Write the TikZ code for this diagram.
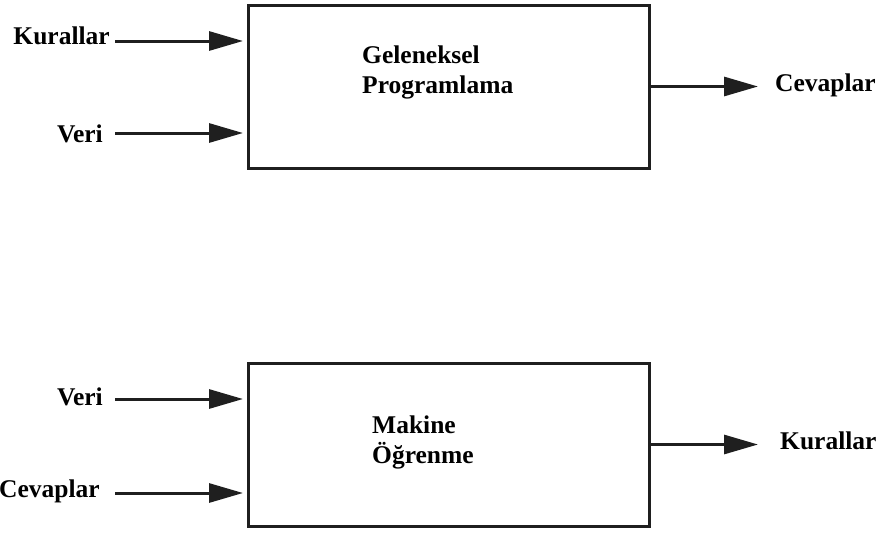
\documentclass[tikz,border=0pt]{standalone}
\usepackage{fontspec}
\setmainfont{Liberation Serif}[BoldFont={Liberation Serif Bold}]
\newfontfamily\lblfont{Liberation Serif Bold}
\usetikzlibrary{arrows.meta}
\begin{document}
\begin{tikzpicture}[x=1pt,y=-1pt,
  lbl/.style={font=\lblfont\fontsize{25.5}{30}\selectfont, inner sep=0pt, text=black},
  procbox/.style={draw=black!88, line width=3pt, fill=white, minimum width=401pt, minimum height=163pt, inner sep=0pt, outer sep=0pt, anchor=north west},
  arr/.style={line width=3pt, draw=black!88, -{Triangle[length=34pt,width=19pt]}}]
\useasboundingbox (0,0) rectangle (883,533);
% boxes
\node[procbox] (gp) at (248,5) {};
\node[procbox] (mo) at (248,363) {};
% box texts
\node[lbl, anchor=north west, align=left] (gpt) at (362,46) {Geleneksel\\Programlama};
\node[lbl, anchor=north west, align=left] (mot) at (372,416) {Makine\\Öğrenme};
% left labels
\node[lbl, anchor=base east] (k1) at (110,44) {Kurallar};
\node[lbl, anchor=base east] (v1) at (103,142) {Veri};
\node[lbl, anchor=base east] (v2) at (103,405) {Veri};
\node[lbl, anchor=base east] (c2) at (100,497) {Cevaplar};
% right labels
\node[lbl, anchor=base west] (c1) at (775,91) {Cevaplar};
\node[lbl, anchor=base west] (k2) at (780,449) {Kurallar};
% arrow endpoints
\coordinate (s1) at (115,41);  \coordinate (e1) at (243,41);
\coordinate (s2) at (115,133); \coordinate (e2) at (243,133);
\coordinate (s3) at (115,399); \coordinate (e3) at (243,399);
\coordinate (s4) at (115,493); \coordinate (e4) at (243,493);
\coordinate (r1) at (758,86);
\coordinate (r2) at (758,443);
% arrows
\draw[arr] (s1) -- (e1);
\draw[arr] (s2) -- (e2);
\draw[arr] (s3) -- (e3);
\draw[arr] (s4) -- (e4);
\draw[arr] (gp.east) -- (gp.east -| r1);
\draw[arr] (mo.east) -- (mo.east -| r2);
\end{tikzpicture}
\end{document}
